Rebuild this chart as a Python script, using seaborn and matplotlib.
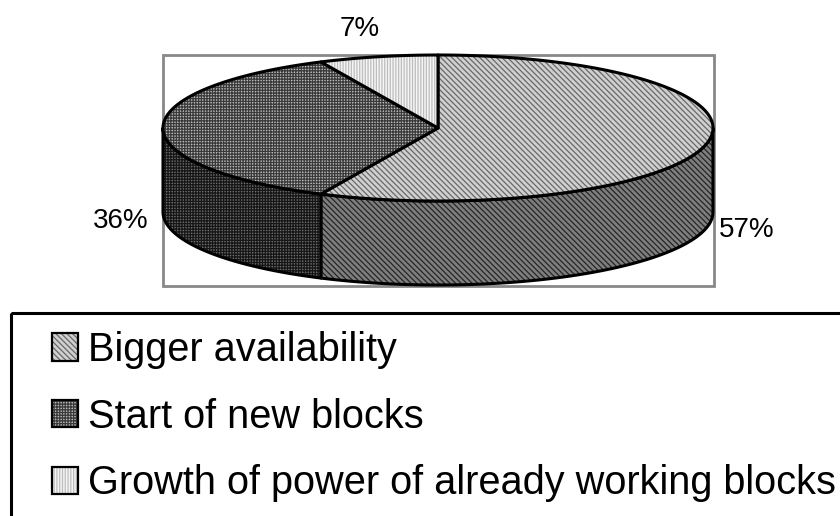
import numpy as np
import matplotlib
matplotlib.use("Agg")
import matplotlib.pyplot as plt
from matplotlib.patches import Polygon, Rectangle, Patch
from matplotlib.legend_handler import HandlerTuple
import seaborn as sns

# ---- data ----
categories = ["Bigger availability", "Start of new blocks",
              "Growth of power of already working blocks"]
shares = [57, 36, 7]

# ---- style ----
sns.set_theme(style="white")
plt.rcParams['font.family'] = ['Liberation Sans', 'DejaVu Sans']
plt.rcParams['hatch.linewidth'] = 0.9
plt.rcParams['text.color'] = 'black'

top_face = ['#d0d0d0', '#bababa', '#f5f5f5']
top_hatch_col = ['#686868', '#3a3a3a', '#bdbdbd']
side_face = ['#7e7e7e', '#6a6a6a', '#bdbdbd']
side_hatch_col = ['#262626', '#161616', '#808080']
hatches = ['\\' * 6, '+' * 6, '|' * 6]
label_pos = [(747, 237), (121, 228), (360, 36)]  # label anchors (x, baseline)

fig = plt.figure(figsize=(8.4, 5.16), dpi=100)
ax = fig.add_axes([0, 0, 1, 1])
ax.set_xlim(0, 840)
ax.set_ylim(516, 0)
ax.axis('off')

# plot-area frame
ax.add_patch(Rectangle((163, 55), 551, 231, fill=False, ec='#888888', lw=2))

cx, cy, rx, ry, depth = 438, 128, 275, 73, 84


def arc(a, b, dz=0, n=200):
    t = np.deg2rad(np.linspace(a, b, n))
    return np.column_stack([cx + rx * np.cos(t), cy - ry * np.sin(t) + dz])


fr = np.array(shares, dtype=float) / sum(shares)
starts = 90 - 360 * np.concatenate([[0], np.cumsum(fr)[:-1]])
ends = starts - 360 * fr


def draw(poly, fc, hatch, hc):
    ax.add_patch(Polygon(poly, closed=True, fc=fc, hatch=hatch, ec=hc, lw=0))
    ax.add_patch(Polygon(poly, closed=True, fill=False, ec='black', lw=2.2,
                         joinstyle='round'))


# side faces (front half only)
for i in range(len(shares)):
    e, s = ends[i], starts[i]
    for k in (-1, 0, 1):
        lo, hi = k * 360 - 180, k * 360
        a, b = max(e, lo), min(s, hi)
        if b - a > 1e-6:
            top = arc(a, b)
            bot = arc(b, a, dz=depth)
            draw(np.vstack([top, bot]), side_face[i], hatches[i], side_hatch_col[i])

# top faces
for i in range(len(shares)):
    poly = np.vstack([[cx, cy], arc(ends[i], starts[i])])
    draw(poly, top_face[i], hatches[i], top_hatch_col[i])

# percentage labels
for i, v in enumerate(shares):
    x, y = label_pos[i]
    ax.text(x, y, f"{v}%", ha='center', va='baseline', fontsize=20, color='black')

# legend
handles = []
for i in range(len(shares)):
    handles.append((Patch(fc=top_face[i], hatch=hatches[i], ec=top_hatch_col[i], lw=0),
                    Patch(fill=False, ec='black', lw=1.6)))
ax.legend(handles, categories, handler_map={tuple: HandlerTuple(ndivide=1, pad=0)},
          loc='upper left', bbox_to_anchor=(52 / 840, 1 - 331 / 516),
          bbox_transform=fig.transFigure, frameon=False, fontsize=28.6,
          labelcolor='black',
          handlelength=0.66, handleheight=0.68, handletextpad=0.25,
          labelspacing=0.72, borderpad=0, borderaxespad=0)
ax.add_patch(Rectangle((11, 313), 900, 300, fill=False, ec='black', lw=2.2))

fig.savefig("out.png", dpi=100)
